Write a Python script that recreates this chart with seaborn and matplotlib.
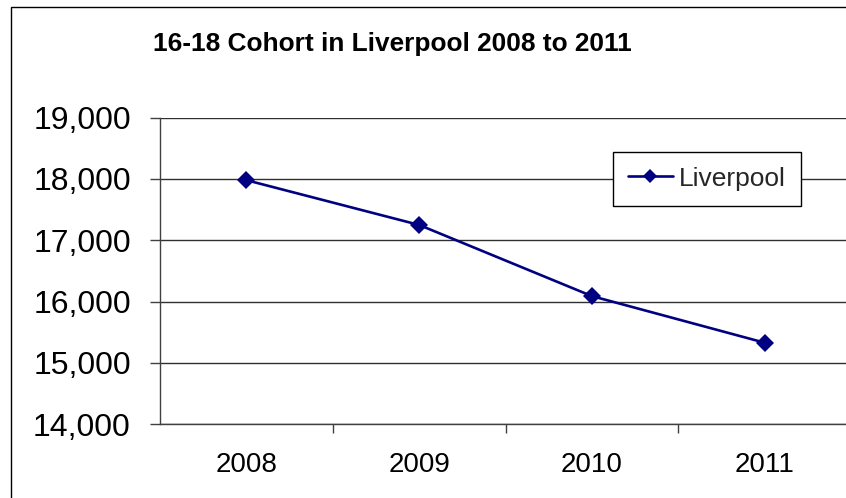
import matplotlib
matplotlib.use("Agg")
import matplotlib.pyplot as plt
from matplotlib.patches import Rectangle
from matplotlib.ticker import FuncFormatter, FixedLocator
import seaborn as sns
import pandas as pd

years = ["2008", "2009", "2010", "2011"]
cohort = [17980, 17250, 16090, 15330]
series_name = "Liverpool"
title = "16-18 Cohort in Liverpool 2008 to 2011"
y_ticks = [14000, 15000, 16000, 17000, 18000, 19000]

sns.set_theme(style="white")
plt.rcParams["font.family"] = ["Liberation Sans", "DejaVu Sans"]

df = pd.DataFrame({"Year": years, "Cohort": cohort, "Area": series_name})

W, H = 846, 498
fig = plt.figure(figsize=(W / 100, H / 100), dpi=100)
fig.patch.set_facecolor("white")

left, right, top, bottom = 160, 851, 117.6, 424.3
ax = fig.add_axes([left / W, 1 - bottom / H, (right - left) / W, (bottom - top) / H])
ax.set_facecolor("white")

sns.lineplot(data=df, x="Year", y="Cohort", hue="Area", palette=["#000080"],
             marker="D", markersize=9, linewidth=1.9, markeredgewidth=0,
             ax=ax, sort=False)

ax.set_xlim(-0.5, 3.5)
ax.set_ylim(14000, 19000)
ax.yaxis.set_major_locator(FixedLocator(y_ticks))
ax.yaxis.set_major_formatter(FuncFormatter(lambda v, p: f"{int(v):,}"))
ax.grid(axis="y", color="#303030", linewidth=1.0)
ax.grid(axis="x", visible=False)
ax.set_xlabel("")
ax.set_ylabel("")

for s in ["top", "right"]:
    ax.spines[s].set_visible(False)
for s in ["left", "bottom"]:
    ax.spines[s].set_color("#404040")
    ax.spines[s].set_linewidth(1.0)

ax.tick_params(axis="y", which="major", direction="out", length=7, width=1,
               color="#404040", pad=14, labelsize=23, labelcolor="black", left=True)
ax.set_xticks([0.5, 1.5, 2.5], minor=True)
ax.tick_params(axis="x", which="minor", direction="out", length=6.5, width=1,
               color="#404040", bottom=True)
ax.tick_params(axis="x", which="major", length=0, pad=20, labelsize=20,
               labelcolor="black")

leg = ax.legend(loc="upper left", bbox_to_anchor=(0.6556, 0.888), fontsize=19,
                frameon=True, fancybox=False, framealpha=1, edgecolor="black",
                handlelength=1.7, handletextpad=0.25, borderpad=0.56,
                borderaxespad=0, markerscale=0.8)
leg.get_frame().set_linewidth(1.0)

fig.text(392.5 / W, 1 - 44 / H, title, ha="center", va="center",
         fontsize=18.9, fontweight="bold", color="black")

fig.patches.append(Rectangle((11 / W, -0.1), 1.2, 1 - 7 / H + 0.1,
                             transform=fig.transFigure, fill=False,
                             edgecolor="black", linewidth=1.0, zorder=0))

fig.savefig("out.png", dpi=100, facecolor="white")
